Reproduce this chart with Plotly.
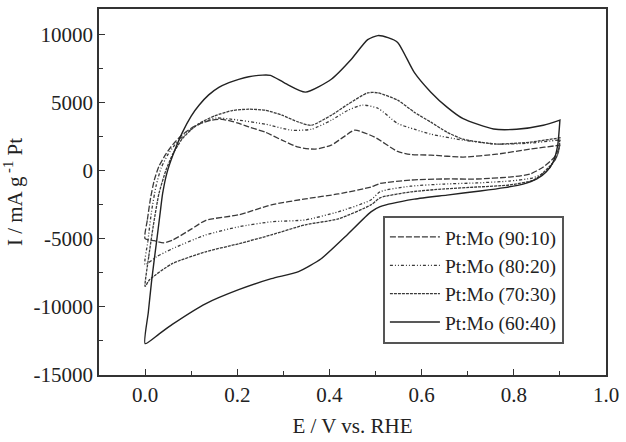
import plotly.graph_objects as go

# ---- data (E / V vs. RHE, I / mA g^-1 Pt); anodic sweep then cathodic sweep ----
E_9010 = [0, 0.005, 0.012, 0.02, 0.03, 0.045, 0.06, 0.08, 0.1, 0.12, 0.145, 0.167, 0.2, 0.225, 0.261, 0.297,
          0.333, 0.369, 0.404, 0.43, 0.455, 0.498, 0.548, 0.575, 0.62, 0.69, 0.763, 0.835, 0.9,
          0.9, 0.895, 0.886, 0.864, 0.835, 0.79, 0.72, 0.649, 0.576, 0.51, 0.49, 0.419, 0.348, 0.274,
          0.203, 0.132, 0.1, 0.06, 0.04, 0.02, 0]
I_9010 = [-5000, -3600, -2000, -700, 300, 1200, 1900, 2600, 3100, 3450, 3700, 3760, 3500, 3200, 2810, 2230,
          1710, 1570, 1860, 2450, 2960, 2450, 1400, 1180, 1130, 990, 1200, 1570, 1860,
          1860, 1400, 900, 260, -260, -480, -620, -620, -700, -950, -1210, -1720, -2080, -2520,
          -3250, -3650, -4300, -5100, -5300, -5150, -5000]

E_8020 = [0, 0.006, 0.014, 0.024, 0.035, 0.05, 0.065, 0.085, 0.105, 0.13, 0.155, 0.189, 0.261, 0.318, 0.361,
          0.404, 0.44, 0.472, 0.505, 0.548, 0.584, 0.62, 0.69, 0.763, 0.835, 0.9,
          0.9, 0.897, 0.888, 0.87, 0.84, 0.79, 0.72, 0.649, 0.576, 0.51, 0.49, 0.419, 0.348, 0.274,
          0.203, 0.132, 0.059, 0.025, 0]
I_8020 = [-6900, -5200, -3000, -1100, 200, 1200, 1900, 2600, 3150, 3600, 3850, 3760, 3400, 2960, 3030,
          3690, 4420, 4800, 4570, 3450, 3030, 2670, 2230, 1940, 2010, 2250,
          2250, 1400, 700, -100, -550, -770, -910, -990, -1150, -1550, -2160, -3030, -3620, -3760,
          -4130, -4720, -5740, -6320, -6900]

E_7030 = [0, 0.008, 0.018, 0.03, 0.045, 0.06, 0.08, 0.1, 0.117, 0.15, 0.189, 0.225, 0.261, 0.297,
          0.333, 0.361, 0.404, 0.44, 0.483, 0.505, 0.548, 0.584, 0.62, 0.655, 0.69, 0.727, 0.763,
          0.835, 0.9,
          0.9, 0.897, 0.89, 0.87, 0.843, 0.79, 0.72, 0.649, 0.576, 0.51, 0.49, 0.419, 0.348, 0.274,
          0.203, 0.132, 0.059, 0.01, 0]
I_7030 = [-8500, -6300, -4000, -1700, 0, 1200, 2300, 3000, 3450, 4000, 4400, 4500, 4420, 4060,
          3550, 3320, 4060, 4860, 5700, 5700, 5160, 4280, 3550, 2810, 2300, 2080, 1940,
          2080, 2400,
          2400, 1400, 800, 40, -700, -1060, -1210, -1350, -1570, -2000, -2520, -3550, -3980, -4720,
          -5370, -5960, -6830, -8000, -8500]

E_6040 = [0, 0.007, 0.014, 0.02, 0.025, 0.032, 0.038, 0.048, 0.06, 0.081, 0.1, 0.117, 0.138, 0.16, 0.182,
          0.203, 0.225, 0.255, 0.272,
          0.304, 0.348, 0.404, 0.447, 0.483, 0.505, 0.527, 0.548, 0.584, 0.62, 0.655, 0.69, 0.756,
          0.806, 0.864, 0.9,
          0.9, 0.895, 0.885, 0.87, 0.85, 0.82, 0.78, 0.727, 0.655, 0.584, 0.51, 0.49, 0.434, 0.382,
          0.333, 0.274, 0.203, 0.132, 0.059, 0.03, 0]
I_6040 = [-12700, -10400, -8150, -6500, -5200, -3300, -1700, -100, 1100, 2800, 4000, 4790, 5550, 6100, 6450,
          6690, 6880, 7000, 6980,
          6400, 5750, 6700, 8150, 9600, 9900, 9750, 9400, 7200, 5750, 4650, 3800, 3050,
          3030, 3320, 3700,
          3700, 1800, 600, -100, -620, -1000, -1250, -1500, -1800, -2100, -2650, -3030, -4860, -6470,
          -7420, -7930, -8740, -9760, -11290, -12000, -12700]

series_names = ["Pt:Mo (90:10)", "Pt:Mo (80:20)", "Pt:Mo (70:30)", "Pt:Mo (60:40)"]
x_tick_vals = [0.0, 0.2, 0.4, 0.6, 0.8, 1.0]
x_tick_text = ["0.0", "0.2", "0.4", "0.6", "0.8", "1.0"]
y_tick_vals = [-15000, -10000, -5000, 0, 5000, 10000]
y_tick_text = ["-15000", "-10000", "-5000", "0", "5000", "10000"]

FONT = "Liberation Serif, Times New Roman, serif"
INK = "#333333"

fig = go.Figure()
styles = [
    dict(dash="6px,2px", width=1.3, color="#3a3a3a"),
    dict(dash="3px,2px,1px,2px,1px,2px", width=1.3, color="#3a3a3a"),
    dict(dash="3px,1px", width=1.3, color="#3a3a3a"),
    dict(dash="solid", width=1.4, color="#222222"),
]
data = [(E_9010, I_9010), (E_8020, I_8020), (E_7030, I_7030), (E_6040, I_6040)]
for (ex, iy), name, st in zip(data, series_names, styles):
    fig.add_trace(go.Scatter(x=ex, y=iy, mode="lines", name=name,
                             line=dict(shape="spline", smoothing=0.6, **st)))

axis_common = dict(showline=True, linecolor=INK, linewidth=1.5, mirror=True,
                   ticks="inside", ticklen=6, tickwidth=1.2, tickcolor=INK,
                   showgrid=False, zeroline=False,
                   tickfont=dict(family=FONT, size=21, color="#222"))

fig.update_layout(
    width=626, height=442,
    margin=dict(l=99, r=16, t=7, b=67),
    paper_bgcolor="white", plot_bgcolor="white",
    font=dict(family=FONT, color="#222"),
    xaxis=dict(range=[-0.1, 1.0], tickmode="array", tickvals=x_tick_vals, ticktext=x_tick_text,
               minor=dict(ticks="inside", ticklen=4, dtick=0.1, tick0=0, tickcolor=INK),
               title=dict(text="E / V vs. RHE", font=dict(family=FONT, size=21), standoff=12),
               **axis_common),
    yaxis=dict(range=[-15000, 11850], tickmode="array", tickvals=y_tick_vals, ticktext=y_tick_text,
               minor=dict(ticks="inside", ticklen=4, dtick=2500, tick0=0, tickcolor=INK),
               title=dict(text="I / mA g<sup> -1</sup> Pt", font=dict(family=FONT, size=21), standoff=6),
               **axis_common),
    legend=dict(x=0.56, y=0.435, xanchor="left", yanchor="top",
                bgcolor="white", bordercolor="#555555", borderwidth=2,
                itemwidth=50, tracegroupgap=0,
                font=dict(family=FONT, size=19.5, color="#222")),
    showlegend=True,
)

fig.write_html("out.html")
